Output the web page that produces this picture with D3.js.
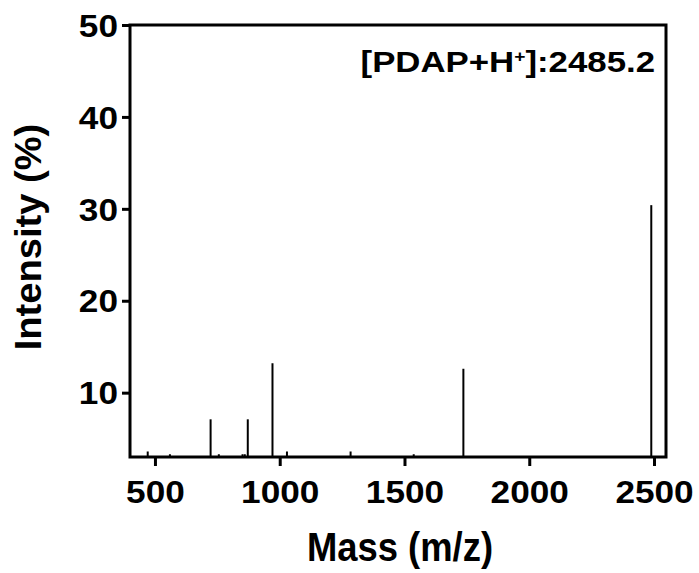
<!DOCTYPE html>
<html>
<head>
<meta charset="utf-8">
<script src="https://cdn.jsdelivr.net/npm/d3@7"></script>
<style>
  body { margin: 0; background: #fff; }
  text { font-family: "Liberation Sans", Arial, sans-serif; font-weight: bold; fill: #000; }
</style>
</head>
<body>
<div id="chart"></div>
<script>
// Peak list (m/z, relative intensity %)
var masses = [471, 560, 723, 756, 851, 860, 872, 971, 1029, 1284, 1537, 1736, 2489];
var intensities = [3.6, 3.3, 7.1, 3.3, 3.3, 3.3, 7.1, 13.2, 3.6, 3.6, 3.3, 12.6, 30.4];

var xTicks = [500, 1000, 1500, 2000, 2500];
var yTicks = [10, 20, 30, 40, 50];

var peakLabel = "2485.2";

MassSpec = function(_parentElement){
  this.parentElement = _parentElement;
  this.initVis();
}

MassSpec.prototype.initVis = function(){
  var vis = this;

  vis.margin = { left: 130, right: 33, top: 25, bottom: 116 };
  vis.width = 699 - vis.margin.left - vis.margin.right;
  vis.height = 573 - vis.margin.top - vis.margin.bottom;

  // tick text in the original is a bit wider than it is tall
  vis.stretch = 1.1;

  vis.svg = d3.select(vis.parentElement)
    .append("svg")
    .attr("width", 699)
    .attr("height", 573);

  vis.g = vis.svg.append("g")
    .attr("transform", "translate(" + vis.margin.left + ", " + vis.margin.top + ")");

  vis.x = d3.scaleLinear()
    .domain([400, 2548])
    .range([0, vis.width]);

  vis.y = d3.scaleLinear()
    .domain([3, 50])
    .range([vis.height, 0]);

  vis.data = masses.map((m, i) => ({ mass: m, value: intensities[i] }));

  vis.updateVis();
}

MassSpec.prototype.updateVis = function(){
  var vis = this;

  // peaks as sticks
  vis.g.selectAll("line.peak")
    .data(vis.data)
    .enter()
    .append("line")
    .attr("class", "peak")
    .attr("x1", d => vis.x(d.mass))
    .attr("x2", d => vis.x(d.mass))
    .attr("y1", vis.y(3))
    .attr("y2", d => vis.y(d.value))
    .attr("stroke", "#000")
    .attr("stroke-width", 2);

  // X axis
  var xAxis = vis.g.append("g")
    .attr("transform", "translate(0, " + vis.height + ")")
    .call(d3.axisBottom(vis.x).tickValues(xTicks).tickSize(9).tickSizeOuter(0).tickFormat(d3.format("d")));
  xAxis.select(".domain").remove();
  xAxis.selectAll(".tick line").attr("stroke", "#000").attr("stroke-width", 3);
  xAxis.selectAll(".tick text")
    .attr("font-size", "32px")
    .attr("y", 23)
    .attr("dy", "0.71em")
    .attr("transform", "scale(" + vis.stretch + ",1)");

  // Y axis
  var yAxis = vis.g.append("g")
    .call(d3.axisLeft(vis.y).tickValues(yTicks).tickSize(8).tickSizeOuter(0));
  yAxis.select(".domain").remove();
  yAxis.selectAll(".tick line").attr("stroke", "#000").attr("stroke-width", 3);
  yAxis.selectAll(".tick text")
    .attr("font-size", "32px")
    .attr("x", -12 / vis.stretch)
    .attr("dy", "0.35em")
    .attr("transform", "scale(" + vis.stretch + ",1)");

  // frame
  vis.g.append("rect")
    .attr("x", 0)
    .attr("y", 0)
    .attr("width", vis.width)
    .attr("height", vis.height)
    .attr("fill", "none")
    .attr("stroke", "#000")
    .attr("stroke-width", 3);

  // X label
  vis.g.append("text")
    .attr("transform", "translate(" + (vis.width / 2 + 2) + ", " + (vis.height + 104) + ") scale(0.91,1)")
    .attr("font-size", "40px")
    .attr("text-anchor", "middle")
    .text("Mass (m/z)");

  // Y label
  vis.g.append("text")
    .attr("transform", "translate(" + (41 - vis.margin.left) + ", " + (vis.height / 2 - 4) + ") rotate(-90) scale(1.03,1)")
    .attr("font-size", "37px")
    .attr("text-anchor", "middle")
    .text("Intensity (%)");

  // annotation
  var note = vis.g.append("text")
    .attr("transform", "translate(" + (vis.width - 11) + ", 47) scale(1.2,1)")
    .attr("font-size", "29px")
    .attr("text-anchor", "end");
  note.append("tspan").text("[PDAP+H");
  note.append("tspan").attr("font-size", "16px").attr("dy", "-10").text("+");
  note.append("tspan").attr("dy", "10").text("]:" + peakLabel);
}

var chart = new MassSpec("#chart");
</script>
</body>
</html>
